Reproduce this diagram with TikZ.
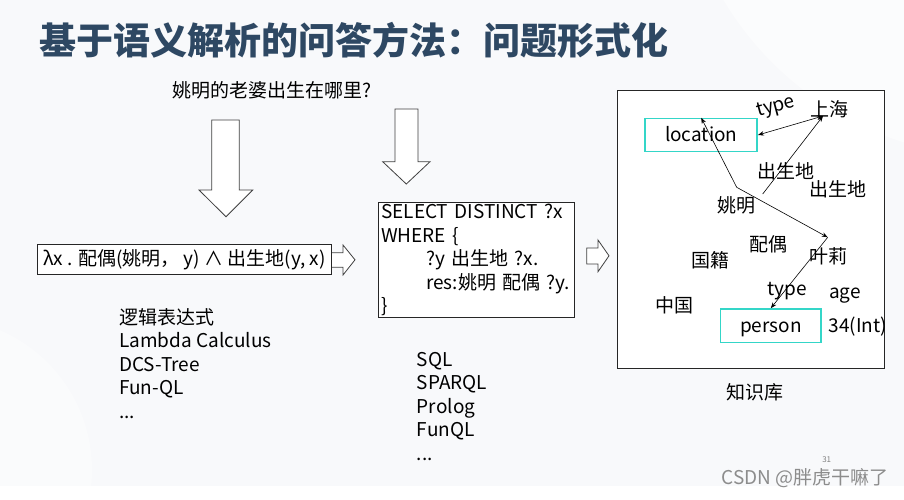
\documentclass[tikz,border=0pt]{standalone}
\usepackage{fontspec}
\setmainfont{Noto Sans CJK SC}
\usepackage{tikz}
\usetikzlibrary{arrows.meta}
\definecolor{titleblue}{RGB}{46,72,99}
\definecolor{slidebg}{RGB}{248,249,251}
\definecolor{kbcyan}{RGB}{52,214,200}

\begin{document}
\begin{tikzpicture}[>={Stealth[length=6pt,width=4.5pt]}, x=1pt, y=-1pt,
		every node/.style={font=\fontsize{19}{23.5}\selectfont},
		frm/.style={draw=black!85, fill=white, line width=0.8pt},
		cls/.style={draw=kbcyan, line width=1.5pt, minimum width=112pt, minimum height=33pt, inner sep=0pt, text height=13pt, text depth=0pt},
		blk/.style={draw=black!75, fill=white, line width=0.8pt, line join=miter},
		rel/.style={line width=0.6pt}]
				% slide background
				\useasboundingbox (0,0) rectangle (904,499);
				\fill[white] (0,0) rectangle (904,499);
				\fill[slidebg] (0,0) rectangle (904,485.7);
				\begin{scope}
				\clip (0,0) rectangle (904,485.7);
				\fill[white, opacity=0.5] (1000,-165) circle (322pt);
				\fill[white, opacity=0.35] (-60,470) circle (152pt);
				\end{scope}

				\node[anchor=west, text=titleblue, font=\fontsize{37}{40}\selectfont\bfseries] (title) at (36,40) {基于语义解析的问答方法：问题形式化};
				\node (ques) at (272,90) {姚明的老婆出生在哪里?};

				% hollow arrows
				\draw[blk] (211.7,120) -- (239.3,120) -- (239.3,190) -- (252.7,190) -- (226,216.7) -- (199,190) -- (211.7,190) -- cycle;
				\draw[blk] (395,109) -- (418,109) -- (418,161.7) -- (430,161.7) -- (406.3,184) -- (382.7,161.7) -- (395,161.7) -- cycle;
				\draw[blk] (331.7,252.7) -- (343,252.7) -- (343,245) -- (355,259.8) -- (343,275) -- (343,267.3) -- (331.7,267.3);
				\draw[blk] (586.7,248) -- (598,248) -- (598,240) -- (609,255.8) -- (598,271.7) -- (598,264) -- (586.7,264) -- cycle;

				\node[frm, minimum width=294.4pt, minimum height=30pt, inner sep=1pt] (lam) at (184.5,259.3) {λx . 配偶(姚明， y) ∧ 出生地(y, x)};
				\node[frm, anchor=north west, align=left, text width=191pt, inner xsep=2.5pt, inner ysep=2pt] (sparql) at (378.3,201.7)
					{SELECT DISTINCT ?x\\WHERE \{\\\hspace*{45pt}?y 出生地 ?x.\\\hspace*{45pt}res:姚明 配偶 ?y.\\\}};

				\node[anchor=north west, align=left, inner sep=0pt] (forms) at (119,308) {逻辑表达式\\Lambda Calculus\\DCS-Tree\\Fun-QL\\...};
				\node[anchor=north west, align=left, inner sep=0pt] (langs) at (416.7,352) {SQL\\SPARQL\\Prolog\\FunQL\\...};

				% knowledge base
				\node[frm, anchor=north west, minimum width=267.6pt, minimum height=278.3pt, inner sep=0pt] (kb) at (616.7,90) {};
				\node (kbname) at (755,392.7) {知识库};
				\node[cls] (loc) at (701.2,135) {location};
				\node[cls, minimum width=100.3pt, minimum height=33.7pt] (per) at (770.8,325.8) {person};
				\node[rotate=15, inner sep=1pt] (t1) at (776,107.5) {type};
				\node (sh) at (829,109) {上海};
				\node (bp1) at (786,171.7) {出生地};
				\node (bp2) at (838,189) {出生地};
				\node (yao) at (736.7,205) {姚明};
				\node (spouse) at (768,244) {配偶};
				\node (ye) at (828,256.7) {叶莉};
				\node (nat) at (710,260) {国籍};
				\node (cn) at (674,305) {中国};
				\node (t2) at (787,291) {type};
				\node (age) at (845,296) {age};
				\node (ageval) at (858,326.7) {34(Int)};

				\coordinate (shpt) at (823,116);
				\coordinate (yaopt) at (762.7,194);
				\coordinate (bend) at (736.7,187.3);
				\coordinate (yept) at (827.7,237.3);
				\path[->, rel]
				(loc.east) edge[<->] (shpt)
				(yaopt) edge (shpt)
				(bend) edge (loc.north)
				(bend) edge (yept)
				(yept) edge (per.north)
				;

				\node[text=black!50, font=\fontsize{8}{9}\selectfont] (pg) at (826.7,459.3) {31};
				\node[text=black!45] (wm) at (805,478) {CSDN @胖虎干嘛了};
\end{tikzpicture}
\end{document}
